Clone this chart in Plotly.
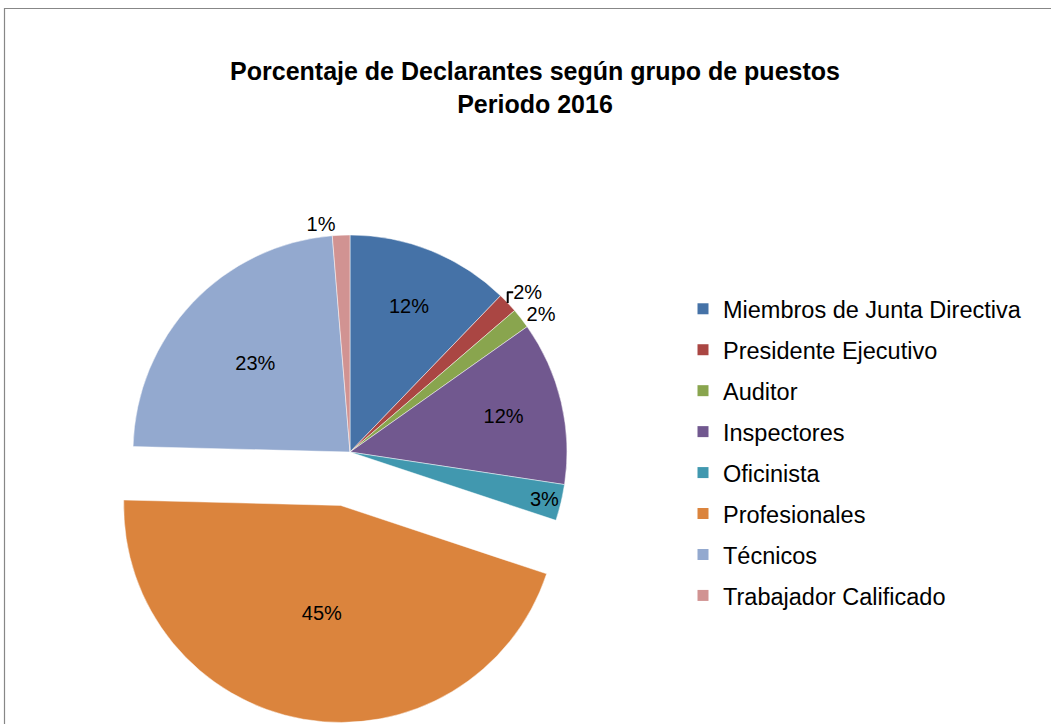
import plotly.graph_objects as go

categories = ["Miembros de Junta Directiva", "Presidente Ejecutivo", "Auditor", "Inspectores",
              "Oficinista", "Profesionales", "Técnicos", "Trabajador Calificado"]
values = [12.2, 1.5, 1.5, 12.2, 2.7, 45.3, 23.3, 1.3]
colors = ["#4572A7", "#AA4643", "#89A54E", "#71588F", "#4198AF", "#DB843D", "#93A9CF", "#D19392"]
pulls = [0, 0, 0, 0, 0, 0.25, 0, 0]
text_pos = ["inside", "outside", "outside", "inside", "inside", "inside", "inside", "outside"]
labels_text = [f"{int(v + 0.5)}%" for v in values]

FONT = "Liberation Sans, Arial, sans-serif"
W, H = 1051, 724

fig = go.Figure()
fig.add_trace(go.Pie(
    labels=categories, values=values, sort=False, direction="clockwise", rotation=0,
    pull=pulls, text=labels_text, textinfo="text", textposition=text_pos,
    insidetextorientation="horizontal",
    textfont=dict(family=FONT, size=20, color="black"),
    marker=dict(colors=colors, line=dict(color="rgba(255,255,255,0.6)", width=0.8)),
    domain=dict(x=[78.75 / W, 621.25 / W], y=[0.75 / H, 543.25 / H]),
    showlegend=False, hoverinfo="label+percent",
))

# legend entries (one group per category so the spacing can be matched)
for name, col in zip(categories, colors):
    fig.add_trace(go.Scatter(
        x=[None], y=[None], mode="markers", name=name, legendgroup=name,
        marker=dict(symbol="square", size=11, color=col), showlegend=True,
    ))

fig.add_shape(type="rect", xref="paper", yref="paper",
              x0=4.5 / W, x1=1.2, y0=-0.2, y1=1 - 8.5 / H,
              line=dict(color="#878787", width=1.2), fillcolor="rgba(0,0,0,0)")

fig.update_layout(
    width=W, height=H,
    margin=dict(l=0, r=0, t=0, b=0, autoexpand=False),
    paper_bgcolor="white", plot_bgcolor="white",
    title=dict(text="<b>Porcentaje de Declarantes según grupo de puestos<br>Periodo 2016</b>",
               x=535 / W, xanchor="center", y=1 - 80 / H, yanchor="middle",
               font=dict(family=FONT, size=25, color="black")),
    xaxis=dict(visible=False), yaxis=dict(visible=False),
    legend=dict(x=683 / W, xanchor="left", y=1 - 287 / H, yanchor="top",
                font=dict(family=FONT, size=23.5, color="black"),
                tracegroupgap=7.4, bgcolor="rgba(0,0,0,0)"),
    uniformtext=dict(minsize=20, mode="show"),
)

fig.write_html("out.html",
               post_script="document.body.style.margin='0';document.body.style.overflow='hidden';",
               config={"displayModeBar": False})
